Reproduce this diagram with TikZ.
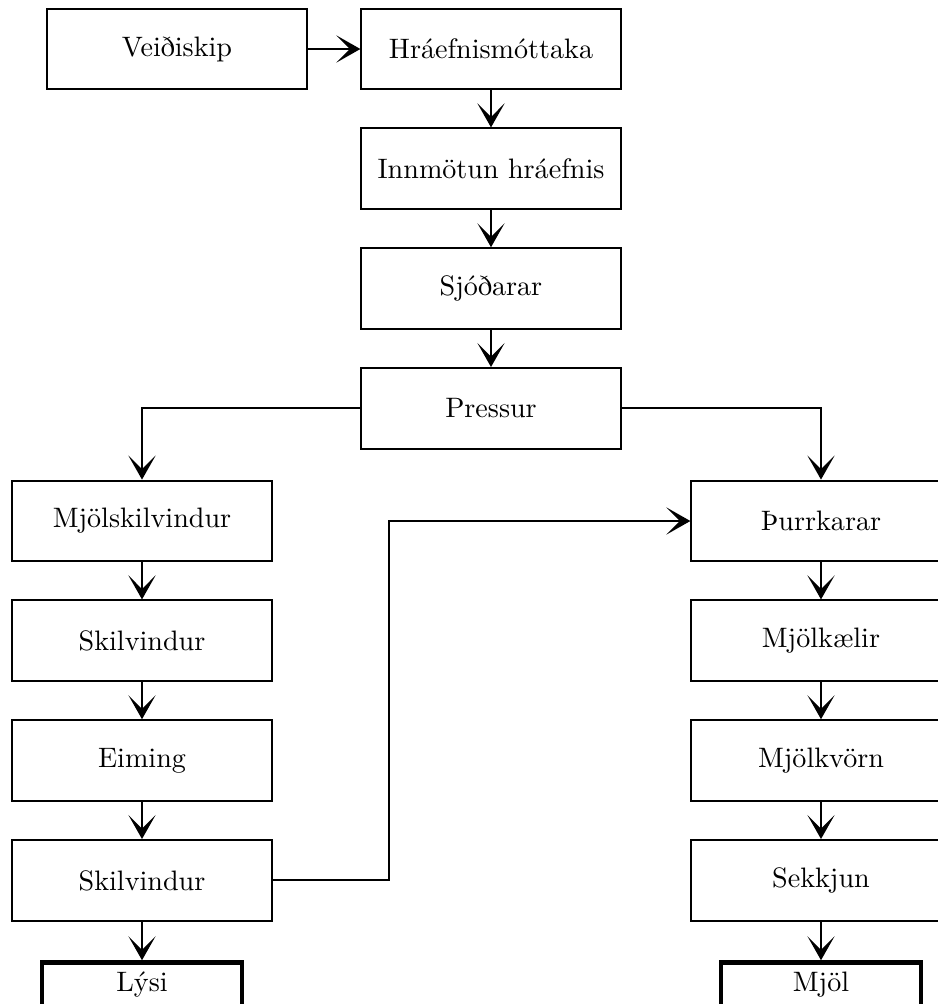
\documentclass[tikz,border=0pt]{standalone}
\usepackage{fontspec}
\usetikzlibrary{arrows.meta}
\usetikzlibrary{positioning}

\begin{document}
\begin{tikzpicture}[x=0.0125cm,y=-0.0125cm,line width=0.7pt,
  every node/.style={draw,line width=0.7pt,minimum width=3.24cm,minimum height=1.01cm},
  endbox/.style={line width=1.6pt,minimum width=2.5cm,minimum height=0.52cm},
  >={Stealth[length=0.3cm,width=0.34cm,inset=0.17cm]},node distance=0.4625cm]
  \useasboundingbox (0,0) rectangle (938,1004);
  % the vertices
  \node (mottaka) at (491,49) {Hráefnismóttaka};
  \node[left=0.66cm of mottaka] (skip) {Veiðiskip};
  \node[below=of mottaka] (inn) {Innmötun hráefnis};
  \node[below=of inn] (sjod) {Sjóðarar};
  \node[below=of sjod] (press) {Pressur};
  \node (mjskil) at (142,521) {Mjölskilvindur};
  \node[below=of mjskil] (skil) {Skilvindur};
  \node[below=of skil] (eim) {Eiming};
  \node[below=of eim] (skiltwo) {Skilvindur};
  \node[endbox,below=0.48cm of skiltwo] (lysi) {Lýsi};
  \node (thurr) at (821,521) {Þurrkarar};
  \node[below=of thurr] (kael) {Mjölkælir};
  \node[below=of kael] (kvorn) {Mjölkvörn};
  \node[below=of kvorn] (sekk) {Sekkjun};
  \node[endbox,below=0.48cm of sekk] (mjol) {Mjöl};
  \coordinate (bend) at (389,700);
  % the edges
  \draw[->] (skip) -- (mottaka);
  \draw[->] (mottaka) -- (inn);
  \draw[->] (inn) -- (sjod);
  \draw[->] (sjod) -- (press);
  \draw[->] (press) -| (mjskil);
  \draw[->] (press) -| (thurr);
  \draw[->] (mjskil) -- (skil);
  \draw[->] (skil) -- (eim);
  \draw[->] (eim) -- (skiltwo);
  \draw[->] (skiltwo) -- (lysi);
  \draw[->] (skiltwo) -| (bend) |- (thurr);
  \draw[->] (thurr) -- (kael);
  \draw[->] (kael) -- (kvorn);
  \draw[->] (kvorn) -- (sekk);
  \draw[->] (sekk) -- (mjol);
\end{tikzpicture}
\end{document}
